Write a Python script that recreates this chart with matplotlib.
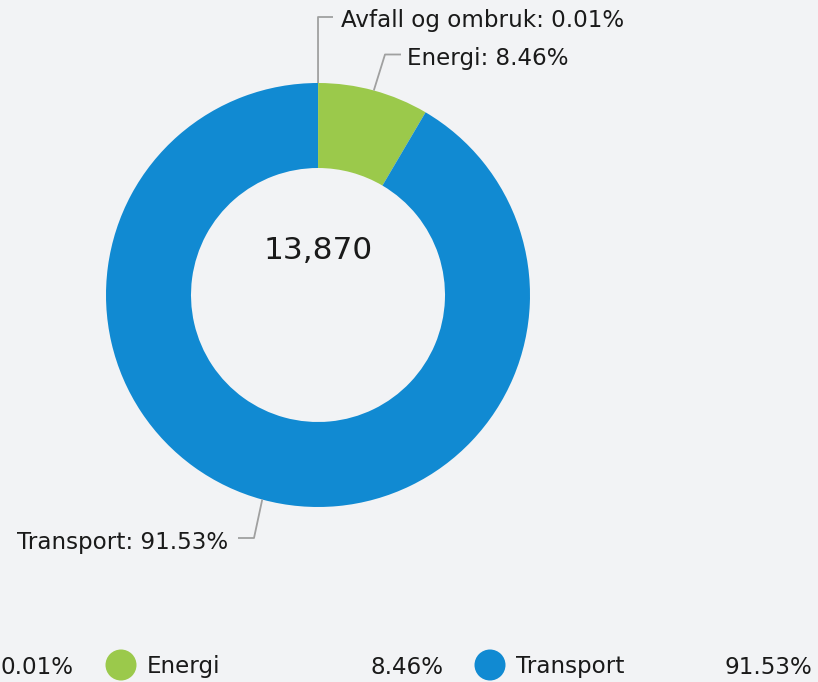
import matplotlib
matplotlib.use("Agg")
import matplotlib.pyplot as plt
from matplotlib.patches import Circle
import numpy as np

plt.rcParams["font.family"] = ["DejaVu Sans"]

categories = ["Avfall og ombruk", "Energi", "Transport"]
values = [1, 1174, 12695]
colors = ["#7f6fbf", "#9bc94b", "#118ad2"]
total_label = "13,870"

W, H = 818, 682
BG = "#f2f3f5"
TXT = "#1a1a1a"
LINE = "#a0a0a0"
FS = 16.6

fig = plt.figure(figsize=(W / 100, H / 100), dpi=100, facecolor=BG)
ax = fig.add_axes([0, 0, 1, 1])
ax.set_xlim(0, W)
ax.set_ylim(0, H)
ax.set_aspect("equal")
ax.axis("off")
ax.set_facecolor(BG)

cx, cy = 318, H - 295
R, ring = 212, 85
wedges, _ = ax.pie(values, colors=colors, startangle=90, counterclock=False,
                   radius=R, center=(cx, cy),
                   wedgeprops=dict(width=ring, linewidth=0))
ax.set_xlim(0, W)
ax.set_ylim(0, H)

ax.text(cx, H - 259, total_label, ha="center", va="baseline", fontsize=22.5, color=TXT)

total = sum(values)
pcts = [v / total * 100 for v in values]

# label layout: (elbow, end of horizontal, text x, ha) in pixel coords (y from top)
layout = [
    ((318, 17), (333, 17), 341, "left"),
    ((385, 54.5), (401, 54.5), 407, "left"),
    ((254, 538), (238, 538), 228, "right"),
]
for w, cat, p, (elb, end, tx, ha) in zip(wedges, categories, pcts, layout):
    mid = np.deg2rad((w.theta1 + w.theta2) / 2)
    px, py = cx + R * np.cos(mid), cy + R * np.sin(mid)
    ax.plot([px, elb[0], end[0]], [py, H - elb[1], H - end[1]],
            color=LINE, lw=1.3, solid_capstyle="butt")
    ax.text(tx, H - (end[1] + 10.5), f"{cat}: {p:.2f}%", ha=ha, va="baseline",
            fontsize=FS, color=TXT)

# legend (scrolled: first item partially out of view)
pitch = 369
ly = H - 665
for i, (cat, p, c) in enumerate(zip(categories, pcts, colors)):
    mx = 121 + (i - 1) * pitch
    if mx > 0:
        ax.add_patch(Circle((mx, ly), 15.5, color=c, lw=0))
        ax.text(mx + 26, H - 673.5, cat, ha="left", va="baseline", fontsize=FS, color=TXT)
    ax.text(mx + 322, H - 673.5, f"{p:.2f}%", ha="right", va="baseline", fontsize=FS, color=TXT)

fig.savefig("out.png", dpi=100, facecolor=BG)
